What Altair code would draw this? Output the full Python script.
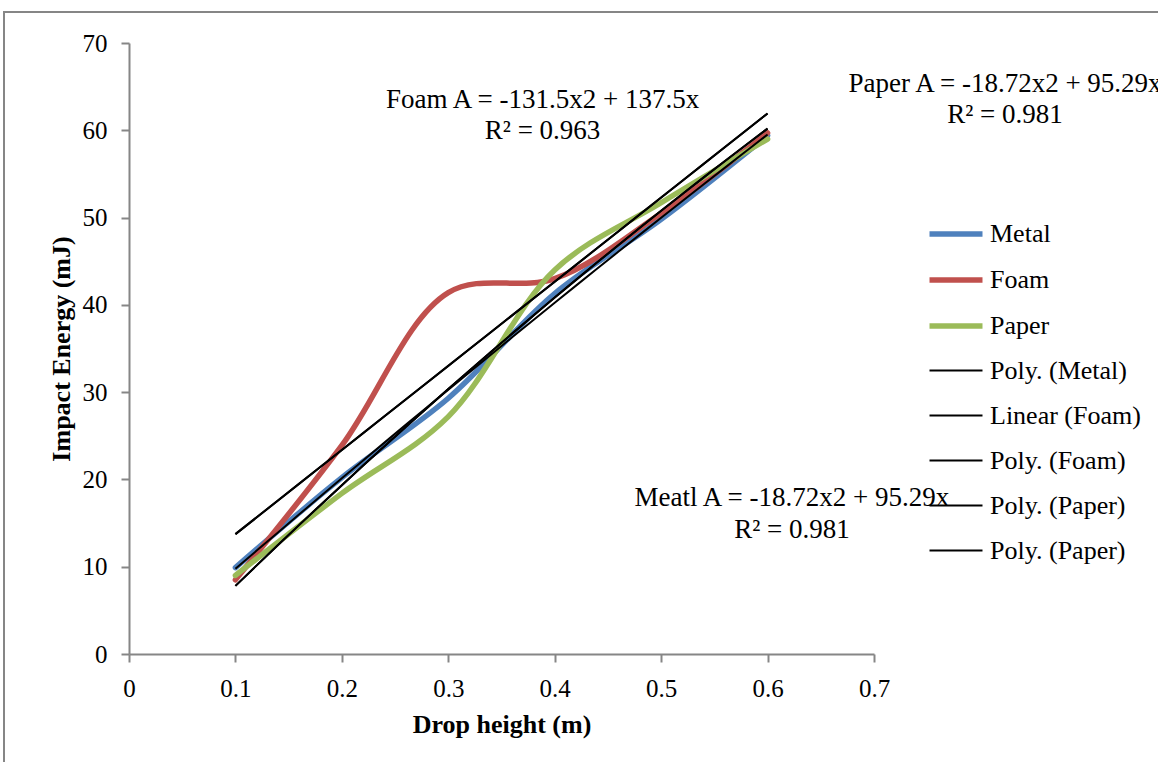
import altair as alt
import pandas as pd

# ---- data ----
drop_height = [0.1, 0.2, 0.3, 0.4, 0.5, 0.6]
metal = [9.9, 20.2, 29.3, 41.3, 49.8, 59.4]
foam = [8.5, 23.9, 41.4, 43.0, 50.5, 59.7]
paper = [9.0, 18.4, 27.2, 44.0, 51.7, 59.0]

series_names = ["Metal", "Foam", "Paper", "Poly. (Metal)", "Linear (Foam)",
                "Poly. (Foam)", "Poly. (Paper)", "Poly. (Paper) "]
series_colors = ["#4F81BD", "#C0504D", "#9BBB59", "#000000", "#000000",
                 "#000000", "#000000", "#000000"]
series_widths = [5.5, 5.5, 5.5, 2, 2, 2, 2, 2]

x_ticks = [0, 0.1, 0.2, 0.3, 0.4, 0.5, 0.6, 0.7]
y_ticks = [0, 10, 20, 30, 40, 50, 60, 70]

ann_text = ["Foam A = -131.5x2 + 137.5x", "R² = 0.963",
            "Paper A = -18.72x2 + 95.29x", "R² = 0.981",
            "Meatl A = -18.72x2 + 95.29x", "R² = 0.981"]
ann_x = [0.3886, 0.3886, 0.8231, 0.8231, 0.6229, 0.6229]
ann_y = [63.5, 59.9, 65.3, 61.7, 17.9, 14.2]

rows = []
for name, vals in [("Metal", metal), ("Foam", foam), ("Paper", paper)]:
    for xv, yv in zip(drop_height, vals):
        rows.append({"x": xv, "y": yv, "material": name})
df = pd.DataFrame(rows)
ann = pd.DataFrame({"text": ann_text, "x": ann_x, "y": ann_y})

FONT = "Liberation Serif"

xscale = alt.Scale(domain=[0, 0.7], nice=False, zero=False)
yscale = alt.Scale(domain=[0, 70], nice=False)
cscale = alt.Scale(domain=series_names, range=series_colors)
wscale = alt.Scale(type="ordinal", domain=series_names, range=series_widths)

xenc = alt.X("x:Q", scale=xscale,
             axis=alt.Axis(values=x_ticks, format="~g", title="Drop height (m)"))
yenc = alt.Y("y:Q", scale=yscale,
             axis=alt.Axis(values=y_ticks, title="Impact Energy (mJ)"))

legend = alt.Legend(
    title=None, orient="none", legendX=811, legendY=175,
    symbolType="M-2,0H2", symbolSize=702, labelOffset=18,
    labelFont=FONT, labelFontSize=26, labelColor="#000000",
    rowPadding=17, labelExpr="trim(datum.label)", labelLimit=400,
)

base = alt.Chart(df)

data_lines = base.transform_calculate(series="datum.material").mark_line(
    interpolate="catmull-rom", strokeCap="round"
).encode(
    x=xenc, y=yenc,
    color=alt.Color("series:N", scale=cscale, legend=legend),
    strokeWidth=alt.StrokeWidth("series:N", scale=wscale, legend=legend),
    detail="material:N",
)

def trend(material, label, method, order=2):
    c = base.transform_filter(alt.datum.material == material)
    if method == "poly":
        c = c.transform_regression(on="x", regression="y", method="poly", order=order)
    else:
        c = c.transform_regression(on="x", regression="y", method="linear")
    return c.transform_calculate(series=f"'{label}'").mark_line().encode(
        x=xenc, y=yenc,
        color=alt.Color("series:N", scale=cscale, legend=legend),
        strokeWidth=alt.StrokeWidth("series:N", scale=wscale, legend=legend),
    )

trends = [
    trend("Metal", "Poly. (Metal)", "poly"),
    trend("Foam", "Linear (Foam)", "linear"),
    trend("Foam", "Poly. (Foam)", "poly", order=1),
    trend("Paper", "Poly. (Paper)", "poly"),
    trend("Paper", "Poly. (Paper) ", "poly"),
]

labels = alt.Chart(ann).mark_text(
    font=FONT, fontSize=27, color="#000000", align="center", baseline="middle"
).encode(x=alt.X("x:Q", scale=xscale), y=alt.Y("y:Q", scale=yscale), text="text:N")

border = alt.Chart(pd.DataFrame({"a": [0]})).mark_rect(
    fill=None, stroke="#868686", strokeWidth=2
).encode(
    x=alt.value(-125), x2=alt.value(1040),
    y=alt.value(-31), y2=alt.value(730),
)

chart = alt.layer(border, data_lines, *trends, labels).resolve_scale(
    color="shared", strokeWidth="shared"
).properties(
    width=745, height=611,
    autosize=alt.AutoSizeParams(type="none"),
    padding={"left": 129, "top": 43, "right": 284, "bottom": 108},
).configure_view(stroke=None).configure_axis(
    grid=False,
    domainColor="#868686", domainWidth=2,
    tickColor="#868686", tickWidth=2, tickSize=8,
    labelFont=FONT, labelFontSize=25, labelColor="#000000",
    titleFont=FONT, titleFontSize=26, titleFontWeight="bold", titleColor="#000000",
).configure_axisX(labelPadding=14, titlePadding=10, labelFlush=False
).configure_axisY(labelPadding=14, titlePadding=8)

chart.save("out.html", embed_options={"renderer": "svg", "actions": False})
